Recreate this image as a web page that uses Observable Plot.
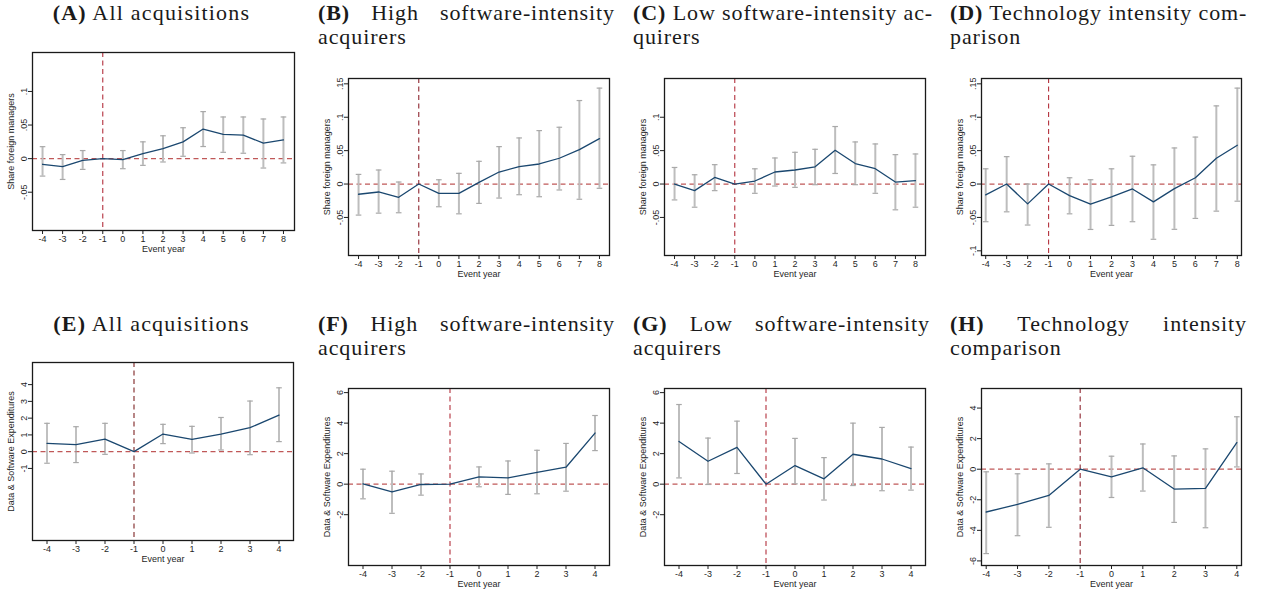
<!DOCTYPE html>
<html><head><meta charset="utf-8">
<script src="https://cdn.jsdelivr.net/npm/d3@7"></script>
<script src="https://cdn.jsdelivr.net/npm/@observablehq/plot@0.6"></script>
<style>
html,body{margin:0;padding:0;background:#fff}
body{width:1262px;height:592px;position:relative;overflow:hidden}
.title{position:absolute;width:297px;font-family:"Liberation Serif","Times New Roman",serif;font-size:22px;line-height:24.5px;letter-spacing:0.9px;color:#1a1a1a}
.title .l1{text-align:justify;text-align-last:justify;white-space:nowrap}
.title .l1.c{text-align:center;text-align-last:center;letter-spacing:1.2px}
.title .l2{text-align:left}
.panel{position:absolute}
</style></head><body>
<script>
// ---------- data ----------
const yearsTop = [-4,-3,-2,-1,0,1,2,3,4,5,6,7,8];
const yearsBottom = [-4,-3,-2,-1,0,1,2,3,4];

const estA = [-0.0084,-0.012,-0.0025,0,-0.0015,0.0074,0.015,0.025,0.044,0.036,0.035,0.023,0.028];
const loA  = [-0.026,-0.031,-0.016,null,-0.015,-0.010,-0.005,0.0035,0.018,0.0094,0.008,-0.014,-0.0064];
const hiA  = [0.0178,0.006,0.012,null,0.012,0.025,0.034,0.046,0.070,0.062,0.062,0.059,0.062];

const estB = [-0.0153,-0.0119,-0.0198,0,-0.0139,-0.0139,0.0025,0.018,0.026,0.030,0.0386,0.0515,0.068];
const loB  = [-0.0465,-0.0436,-0.043,null,-0.034,-0.0446,-0.029,-0.021,-0.016,-0.019,-0.0089,-0.0228,-0.0064];
const hiB  = [0.0144,0.021,0.003,null,0.0064,0.016,0.034,0.056,0.069,0.080,0.085,0.125,0.1436];

const estC = [0,-0.0099,0.0099,0,0.0045,0.018,0.021,0.0257,0.0505,0.0307,0.023,0.003,0.005];
const loC  = [-0.0238,-0.0347,-0.0099,null,-0.0139,-0.003,-0.005,-0.001,0.0158,-0.001,-0.0139,-0.0386,-0.0347];
const hiC  = [0.0248,0.0139,0.029,null,0.0228,0.039,0.0475,0.052,0.0861,0.063,0.060,0.044,0.045];

const estD = [-0.0163,0,-0.0297,0,-0.0173,-0.0302,-0.0193,-0.0074,-0.0267,-0.0069,0.0094,0.0386,0.058];
const loD  = [-0.0564,-0.0416,-0.0614,null,-0.0446,-0.068,-0.0619,-0.0564,-0.0827,-0.0678,-0.0515,-0.0406,-0.0257];
const hiD  = [0.0228,0.041,0,null,0.0094,0.0064,0.0228,0.0416,0.0287,0.054,0.0703,0.117,0.1436];

const estE = [0.50,0.42,0.75,0,1.05,0.73,1.05,1.43,2.18];
const loE  = [-0.69,-0.65,-0.16,null,0.48,-0.08,0.10,-0.18,0.60];
const hiE  = [1.69,1.49,1.69,null,1.63,1.51,2.04,3.02,3.81];

const estF = [0.02,-0.5,-0.02,0,0.48,0.41,0.78,1.11,3.35];
const loF  = [-0.96,-1.91,-0.72,null,-0.17,-0.67,-0.63,-0.46,2.20];
const hiF  = [0.98,0.85,0.67,null,1.13,1.52,2.22,2.67,4.5];

const estG = [2.80,1.50,2.41,0,1.22,0.35,1.96,1.65,1.02];
const loG  = [0.41,-0.02,0.70,null,0.02,-1.04,-0.09,-0.43,-0.39];
const hiG  = [5.22,3.02,4.13,null,3.0,1.74,4.0,3.72,2.43];

const estH = [-2.80,-2.30,-1.72,0,-0.50,0.09,-1.30,-1.26,1.74];
const loH  = [-5.52,-4.35,-3.80,null,-1.85,-1.43,-3.48,-3.83,0.15];
const hiH  = [-0.17,-0.30,0.35,null,0.85,1.65,0.87,1.33,3.43];

const yTicksA = [-0.05,0,0.05,0.1];
const yTicksB = [-0.05,0,0.05,0.1,0.15];
const yTicksC = [-0.05,0,0.05,0.1];
const yTicksD = [-0.1,-0.05,0,0.05,0.1,0.15];
const yTicksE = [-1,0,1,2,3,4];
const yTicksF = [-2,0,2,4,6];
const yTicksG = [-2,0,2,4,6];
const yTicksH = [-6,-4,-2,0,2,4];

const labelTop = "Share foreign managers";
const labelBottom = "Data & Software Expenditures";
const xLabel = "Event year";

const titles = {
  A: ["(A)", "All acquisitions", null],
  B: ["(B)", "High software-intensity", "acquirers"],
  C: ["(C)", "Low software-intensity ac-", "quirers"],
  D: ["(D)", "Technology intensity com-", "parison"],
  E: ["(E)", "All acquisitions", null],
  F: ["(F)", "High software-intensity", "acquirers"],
  G: ["(G)", "Low software-intensity", "acquirers"],
  H: ["(H)", "Technology intensity", "comparison"]
};

// ---------- layout ----------
const fmtShare = d => d === 0 ? "0" : String(d).replace("0.", ".");
const fmtInt = d => String(d);

const panels = [
  {id:"A", years:yearsTop, est:estA, lo:loA, hi:hiA, frame:[32,52,294,230], xd:[-4.5,8.55], yd:[-0.107,0.158], yt:yTicksA, fmt:fmtShare, yl:labelTop, vc:"#b3313d", ci:"#bdbdbd", ciw:2, tl:[3,0.8]},
  {id:"B", years:yearsTop, est:estB, lo:loB, hi:hiB, frame:[348,78,609,255], xd:[-4.5,8.5], yd:[-0.107,0.158], yt:yTicksB, fmt:fmtShare, yl:labelTop, vc:"#8e2630", ci:"#bdbdbd", ciw:2, tl:[318,0.8]},
  {id:"C", years:yearsTop, est:estC, lo:loC, hi:hiC, frame:[664,78,925,255], xd:[-4.5,8.5], yd:[-0.107,0.158], yt:yTicksC, fmt:fmtShare, yl:labelTop, vc:"#b3313d", ci:"#bdbdbd", ciw:2, tl:[633,0.8]},
  {id:"D", years:yearsTop, est:estD, lo:loD, hi:hiD, frame:[981,78,1241,255], xd:[-4.2,8.2], yd:[-0.107,0.158], yt:yTicksD, fmt:fmtShare, yl:labelTop, vc:"#b3313d", ci:"#bdbdbd", ciw:2, tl:[950,0.8]},
  {id:"E", years:yearsBottom, est:estE, lo:loE, hi:hiE, frame:[32,362,293,540], xd:[-4.5,4.5], yd:[-5.3,5.32], yt:yTicksE, fmt:fmtInt, yl:labelBottom, vc:"#7e2424", ci:"#9e9e9e", ciw:1.3, tl:[3,311.8]},
  {id:"F", years:yearsBottom, est:estF, lo:loF, hi:hiF, frame:[348,388,609,565], xd:[-4.5,4.5], yd:[-5.33,6.27], yt:yTicksF, fmt:fmtInt, yl:labelBottom, vc:"#b3313d", ci:"#bdbdbd", ciw:2, tl:[318,311.8]},
  {id:"G", years:yearsBottom, est:estG, lo:loG, hi:hiG, frame:[664,388,925,565], xd:[-4.5,4.5], yd:[-5.33,6.27], yt:yTicksG, fmt:fmtInt, yl:labelBottom, vc:"#b3313d", ci:"#bdbdbd", ciw:2, tl:[633,311.8]},
  {id:"H", years:yearsBottom, est:estH, lo:loH, hi:hiH, frame:[981,388,1241,565], xd:[-4.15,4.15], yd:[-6.3,5.28], yt:yTicksH, fmt:fmtInt, yl:labelBottom, vc:"#8e2630", ci:"#bdbdbd", ciw:2, tl:[950,311.8]}
];

const capSymbol = { draw(ctx) { ctx.moveTo(-2.8, 0); ctx.lineTo(2.8, 0); } };
const mL = 36, mT = 6, mR = 6, mB = 30;

for (const p of panels) {
  const [L, T, R, B] = p.frame;
  const data = p.years.map((x, i) => ({x, y: p.est[i], lo: p.lo[i], hi: p.hi[i]}));
  const ci = data.filter(d => d.lo != null && d.hi != null);
  const svg = Plot.plot({
    width: R - L + mL + mR,
    height: B - T + mT + mB,
    marginLeft: mL, marginTop: mT, marginRight: mR, marginBottom: mB,
    style: {fontFamily: "'Liberation Sans', Arial, sans-serif", fontSize: "9.5px", color: "#1f1f1f", background: "white", overflow: "visible"},
    x: {domain: p.xd},
    y: {domain: p.yd},
    marks: [
      Plot.ruleY([0], {stroke: "#c05858", strokeDasharray: "5,3.5", strokeWidth: 1.2}),
      Plot.ruleX([-1], {stroke: p.vc, strokeDasharray: "5,3.5", strokeWidth: 1.1}),
      Plot.ruleX(ci, {x: "x", y1: "lo", y2: "hi", stroke: p.ci, strokeWidth: p.ciw}),
      Plot.dot(ci, {x: "x", y: "lo", symbol: capSymbol, fill: "none", stroke: "#a9a9a9", strokeWidth: 1.2}),
      Plot.dot(ci, {x: "x", y: "hi", symbol: capSymbol, fill: "none", stroke: "#a9a9a9", strokeWidth: 1.2}),
      Plot.line(data, {x: "x", y: "y", stroke: "#1a476f", strokeWidth: 1.3}),
      Plot.frame({stroke: "#1a1a1a", strokeWidth: 1.3}),
      Plot.axisX({ticks: p.years, tickFormat: fmtInt, tickSize: 4, tickPadding: 1, fontSize: 9,
        label: xLabel, labelAnchor: "center", labelArrow: "none", labelOffset: 21}),
      Plot.axisY({ticks: p.yt, tickFormat: p.fmt, tickSize: 4, tickRotate: -90, tickPadding: 2, fontSize: 9,
        label: p.yl, labelAnchor: "center", labelArrow: "none", labelOffset: 25})
    ]
  });
  svg.classList.add("panel");
  svg.style.left = (L - mL) + "px";
  svg.style.top = (T - mT) + "px";
  document.body.appendChild(svg);

  const [tag, line1, line2] = titles[p.id];
  const div = document.createElement("div");
  div.className = "title";
  div.style.left = p.tl[0] + "px";
  div.style.top = p.tl[1] + "px";
  const l1 = document.createElement("div");
  l1.className = line2 ? "l1" : "l1 c";
  const b = document.createElement("b");
  b.textContent = tag;
  l1.appendChild(b);
  l1.appendChild(document.createTextNode(" " + line1));
  div.appendChild(l1);
  if (line2) {
    const l2 = document.createElement("div");
    l2.className = "l2";
    l2.textContent = line2;
    div.appendChild(l2);
  }
  document.body.appendChild(div);
}
</script>
</body></html>
